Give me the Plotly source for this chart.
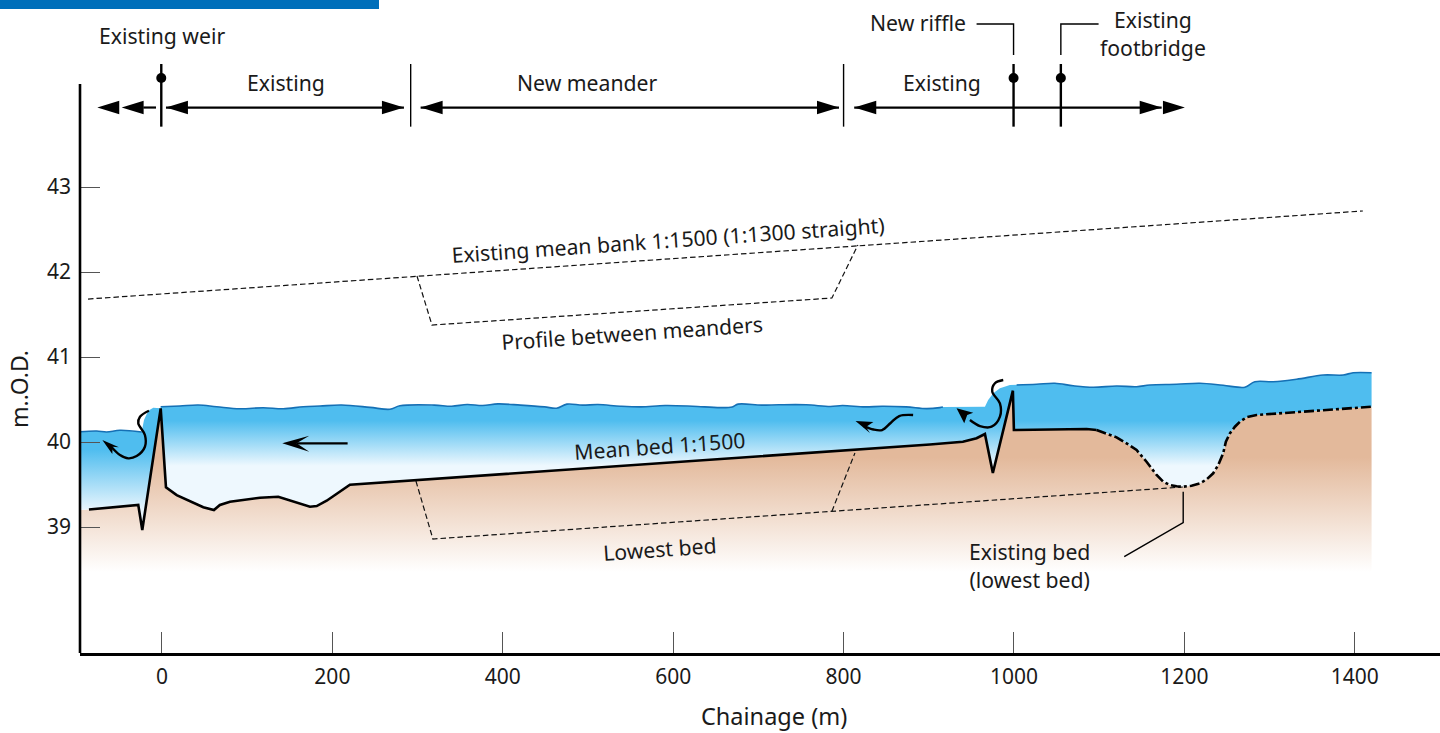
import plotly.graph_objects as go

# ---- data (chainage in m, level in m.O.D.) ----
bed_x = [-85.7, -27.8, -23.1, -1.5, 4.7, 17.3, 48.5, 61, 68, 79.8, 115, 136.5, 173.7, 181.6, 193.3, 220.6,
         901.3, 924.8, 940, 956.1, 965.9, 975.2, 998.7, 999.9, 1085.2, 1096.9]
bed_y = [39.206, 39.259, 38.965, 40.396, 39.467, 39.376, 39.232, 39.2, 39.259, 39.298, 39.345, 39.356, 39.239,
         39.247, 39.309, 39.498, 39.971, 39.988, 40.004, 40.044, 40.094, 39.635, 40.604, 40.141, 40.153, 40.141]
old_bed_x = [1096.9, 1108.7, 1120.4, 1132.1, 1143.9, 1155.6, 1167.4, 1175.2, 1183, 1190.9, 1198.6, 1208.4, 1218.2,
             1226.1, 1233.8, 1239.7, 1245.5, 1248.7, 1253.4, 1259.3, 1265.1, 1273, 1284.7, 1419.7]
old_bed_y = [40.141, 40.102, 40.055, 39.985, 39.906, 39.768, 39.612, 39.533, 39.494, 39.479, 39.474, 39.486, 39.514,
             39.561, 39.632, 39.729, 39.867, 40.004, 40.102, 40.18, 40.239, 40.291, 40.318, 40.415]
surface_main_x = [-1.5, 21.1, 42.6, 64.2, 91.5, 118.9, 142.3, 165.8, 185.4, 210.9, 244.1, 267.6, 279.3, 319.7, 340,
                  358.2, 376.4, 394.4, 420.7, 449, 463.2, 475.3, 493.5, 511.7, 538, 562.2, 590.5, 622.8, 655.2, 669.3,
                  676.2, 703.7, 723.9, 756.2, 784.5, 798.7, 825, 845.2, 873.5, 897.7, 913, 916.6]
surface_main_y = [40.415, 40.424, 40.435, 40.415, 40.392, 40.404, 40.392, 40.415, 40.424, 40.435, 40.408, 40.385,
                  40.426, 40.434, 40.421, 40.441, 40.429, 40.449, 40.434, 40.413, 40.398, 40.446, 40.434, 40.441,
                  40.421, 40.413, 40.429, 40.421, 40.405, 40.413, 40.446, 40.434, 40.438, 40.438, 40.418, 40.429,
                  40.413, 40.421, 40.413, 40.393, 40.405, 40.412]
riffle_rise_x = [965.9, 969.7, 975.6, 983.5, 995.2]
riffle_rise_y = [40.416, 40.494, 40.573, 40.632, 40.671]
surface_up_x = [1003.1, 1026.5, 1048, 1069.5, 1092.9, 1120.4, 1143.9, 1159.5, 1190.9, 1218.2, 1245.5, 1271, 1282.7,
                1304.2, 1331.7, 1362.9, 1386.4, 1398.1, 1419.7]
surface_up_y = [40.671, 40.679, 40.691, 40.662, 40.644, 40.659, 40.651, 40.671, 40.679, 40.691, 40.667, 40.644,
                40.709, 40.709, 40.738, 40.788, 40.788, 40.815, 40.815]
surface_low_x = [-96.2, -76.6, -64.9, -49.3, -23.8]
surface_low_y = [40.121, 40.129, 40.118, 40.138, 40.118]
weir_crest_x = [-21.1, -16.1, -10.2]
weir_crest_y = [40.259, 40.368, 40.404]
ground_left_x, ground_left_y = -96.2, 39.2
ground_base = 38.47

mean_bank_x = [-86.8, 1409.5]
mean_bank_y = [41.682, 42.718]
profile_x = [299.3, 316.9, 786.3, 816.8]
profile_y = [41.953, 41.376, 41.694, 42.318]
lowest_x = [298.1, 318, 1198.2]
lowest_y = [39.541, 38.859, 39.471]
lowest_link_x = [786.3, 813.3]
lowest_link_y = [39.185, 39.871]
leader_bed_x = [1198.6, 1198.6, 1129.4]
leader_bed_y = [39.415, 39.051, 38.651]

row_level = 43.935
shafts = [(-21.9, -7), (4.7, 284), (303.6, 794.6), (812.5, 1173.3)]
heads = [(-75.9, -1), (-47.3, -1), (4.7, -1), (284, 1), (303.6, -1), (794.6, 1), (812.5, -1), (1173.3, 1), (1200.6, 1)]
head_len, head_half = 25.8, 0.079
thin_marks = [291.9, 800]
thick_marks = [-0.8, 999.5, 1055]
mark_top, mark_bottom, dot_level = 44.447, 43.71, 44.282
riffle_leader_x = [999.5, 999.5, 956.1]
bridge_leader_x = [1055, 1055, 1099.3]
leader_top_y = [44.553, 44.918, 44.918]

flow_shaft_x = [217.9, 158]
flow_shaft_y = [39.985, 39.985]
flow_head_x = [141.2, 172.9, 158, 172.9]
flow_head_y = [39.985, 40.074, 39.985, 39.886]
swirls = [
    ([-15.3, -25.8, -27.8, -20, -20, -29.7, -39.5, -49.3, -59],
     [40.368, 40.298, 40.22, 40.082, 39.945, 39.835, 39.808, 39.847, 39.938],
     [-70, -50.5, -57.9, -58.3], [40.024, 39.938, 39.945, 39.859]),
    ([881.6, 865.3, 855.2, 845.2, 835, 824],
     [40.318, 40.306, 40.224, 40.141, 40.147, 40.188],
     [814, 835, 826.2, 830.9], [40.247, 40.235, 40.176, 40.106]),
    ([987.4, 977.6, 974.5, 983.5, 983.5, 973.7, 960, 948.3],
     [40.729, 40.691, 40.592, 40.455, 40.298, 40.18, 40.188, 40.259],
     [932.6, 952.2, 945.1, 941.6], [40.396, 40.345, 40.318, 40.22]),
]

x_ticks = [0, 200, 400, 600, 800, 1000, 1200, 1400]
y_ticks = [39, 40, 41, 42, 43]

labels = [
    ("Existing weir", 0, 44.788, 0),
    ("Existing", 145.5, 44.235, 0),
    ("New meander", 500, 44.235, 0),
    ("Existing", 915.4, 44.235, 0),
    ("New riffle", 887.2, 44.941, 0),
    ("Existing<br>footbridge", 1163.6, 44.806, 0),
    ("Existing mean bank 1:1500 (1:1300 straight)", 593.8, 42.388, -4),
    ("Profile between meanders", 551.6, 41.294, -4),
    ("Mean bed 1:1500", 584.5, 39.965, -4),
    ("Lowest bed", 584.5, 38.753, -4),
    ("Existing bed<br>(lowest bed)", 1018.7, 38.553, 0),
]

FONT = "Noto Sans"
INK = "#1a1a1a"
WATER = "#4FBDEF"
PALE = "#EEF8FE"
SOIL = "#E3B99B"
X_RANGE = [-96.2, 1500]
Y_RANGE = [37.518, 45.2]

fig = go.Figure()

def line(x, y, width=1.0, dash="solid", color="black", shape="linear"):
    fig.add_trace(go.Scatter(x=x, y=y, mode="lines", hoverinfo="skip", cliponaxis=False,
                             line=dict(color=color, width=width, dash=dash, shape=shape)))

def solid(x, y):
    fig.add_trace(go.Scatter(x=x, y=y, mode="lines", fill="toself", fillcolor="black",
                             line=dict(width=0), hoverinfo="skip"))

# ground
fig.add_trace(go.Scatter(
    x=[ground_left_x] + bed_x + old_bed_x[1:] + [old_bed_x[-1], ground_left_x],
    y=[ground_left_y] + bed_y + old_bed_y[1:] + [ground_base, ground_base],
    mode="lines", fill="toself", line=dict(width=0), hoverinfo="skip",
    fillgradient=dict(type="vertical", start=40.4, stop=ground_base,
                      colorscale=[[0, SOIL], [0.3, SOIL], [1, "#FFFFFF"]])))

# tail-water pool below the weir
fig.add_trace(go.Scatter(
    x=surface_low_x + weir_crest_x + [bed_x[3], bed_x[2], bed_x[1], bed_x[0], ground_left_x],
    y=surface_low_y + weir_crest_y + [bed_y[3], bed_y[2], bed_y[1], bed_y[0], ground_left_y],
    mode="lines", fill="toself", line=dict(width=0), hoverinfo="skip",
    fillgradient=dict(type="vertical", start=40.15, stop=39.2,
                      colorscale=[[0, WATER], [0.25, WATER], [1, "#E8F5FD"]])))

# main water body
fig.add_trace(go.Scatter(
    x=surface_main_x + riffle_rise_x + surface_up_x + old_bed_x[::-1][:-1] + bed_x[3:][::-1],
    y=surface_main_y + riffle_rise_y + surface_up_y + old_bed_y[::-1][:-1] + bed_y[3:][::-1],
    mode="lines", fill="toself", line=dict(width=0), hoverinfo="skip",
    fillgradient=dict(type="vertical", start=40.7, stop=39.4,
                      colorscale=[[0, WATER], [0.346, WATER], [0.754, PALE], [1, PALE]])))

# water surface
for sx, sy in [(surface_low_x, surface_low_y), (surface_main_x, surface_main_y), (surface_up_x, surface_up_y)]:
    line(sx, sy, 1.6, color="#1570B5", shape="spline")

# dashed levels
for dx, dy in [(mean_bank_x, mean_bank_y), (profile_x, profile_y), (lowest_x, lowest_y),
               (lowest_link_x, lowest_link_y)]:
    line(dx, dy, 1.2, dash="5.5px,3px", color="#111111")

# bed
line(bed_x, bed_y, 2.6)
line(old_bed_x, old_bed_y, 2.6, dash="10px,3px,3px,3px")
line(leader_bed_x, leader_bed_y, 1.4)

# flow arrows
line(flow_shaft_x, flow_shaft_y, 2.2)
solid(flow_head_x + flow_head_x[:1], flow_head_y + flow_head_y[:1])
for sx, sy, hx, hy in swirls:
    line(sx, sy, 2.4, shape="spline")
    solid(hx + hx[:1], hy + hy[:1])

# top section row
for a, b in shafts:
    line([a, b], [row_level, row_level], 2.2)
for tip, direction in heads:
    base = tip - direction * head_len
    solid([tip, base, base, tip], [row_level, row_level + head_half, row_level - head_half, row_level])
for m in thin_marks:
    line([m, m], [mark_top, mark_bottom], 1.4)
for m in thick_marks:
    line([m, m], [mark_top, mark_bottom], 2.4)
fig.add_trace(go.Scatter(x=thick_marks, y=[dot_level] * len(thick_marks), mode="markers", hoverinfo="skip",
                         marker=dict(color="black", size=10)))
line(riffle_leader_x, leader_top_y, 1.4)
line(bridge_leader_x, leader_top_y, 1.4)

annotations = [dict(x=lx, y=ly, text=t, textangle=a, showarrow=False, xref="x", yref="y",
                    xanchor="center", yanchor="middle", font=dict(family=FONT, size=21.2, color=INK))
               for t, lx, ly, a in labels]
annotations.append(dict(text="Chainage (m)", x=(774 - 80) / 1360, y=(653 - 716) / 653, xref="paper", yref="paper",
                        showarrow=False, xanchor="center", yanchor="middle",
                        font=dict(family=FONT, size=23.5, color=INK)))
annotations.append(dict(text="m..O.D.", x=(19 - 80) / 1360, y=(653 - 389) / 653, xref="paper", yref="paper",
                        showarrow=False, xanchor="center", yanchor="middle", textangle=-90,
                        font=dict(family=FONT, size=23, color=INK)))

shapes = [
    dict(type="rect", xref="paper", yref="paper", x0=-80 / 1360, x1=(379 - 80) / 1360, y0=1 - 9 / 653, y1=1,
         fillcolor="#006FBA", line=dict(width=0), layer="above"),
    dict(type="line", xref="paper", yref="y", x0=0, x1=0, y0=Y_RANGE[0], y1=44.212,
         line=dict(color="black", width=2.6), layer="above"),
]

fig.update_layout(
    width=1440, height=733, margin=dict(l=80, r=0, t=0, b=80),
    paper_bgcolor="white", plot_bgcolor="white", showlegend=False,
    hovermode=False, annotations=annotations, shapes=shapes,
    xaxis=dict(range=X_RANGE, tickmode="array", tickvals=x_ticks, ticks="inside", ticklen=21, tickwidth=1.2,
               tickcolor="#555555", showgrid=False, zeroline=False, showline=True, linecolor="black", linewidth=2.6,
               tickfont=dict(family=FONT, size=21, color=INK), ticklabelstandoff=3),
    yaxis=dict(range=Y_RANGE, tickmode="array", tickvals=y_ticks, ticks="inside", ticklen=20, tickwidth=1.2,
               tickcolor="#555555", showgrid=False, zeroline=False, showline=False,
               tickfont=dict(family=FONT, size=21, color=INK), ticklabelstandoff=8),
)

fig.write_html("out.html", config={"displayModeBar": False},
               post_script="document.body.style.margin='0';document.documentElement.style.overflow='hidden';")
